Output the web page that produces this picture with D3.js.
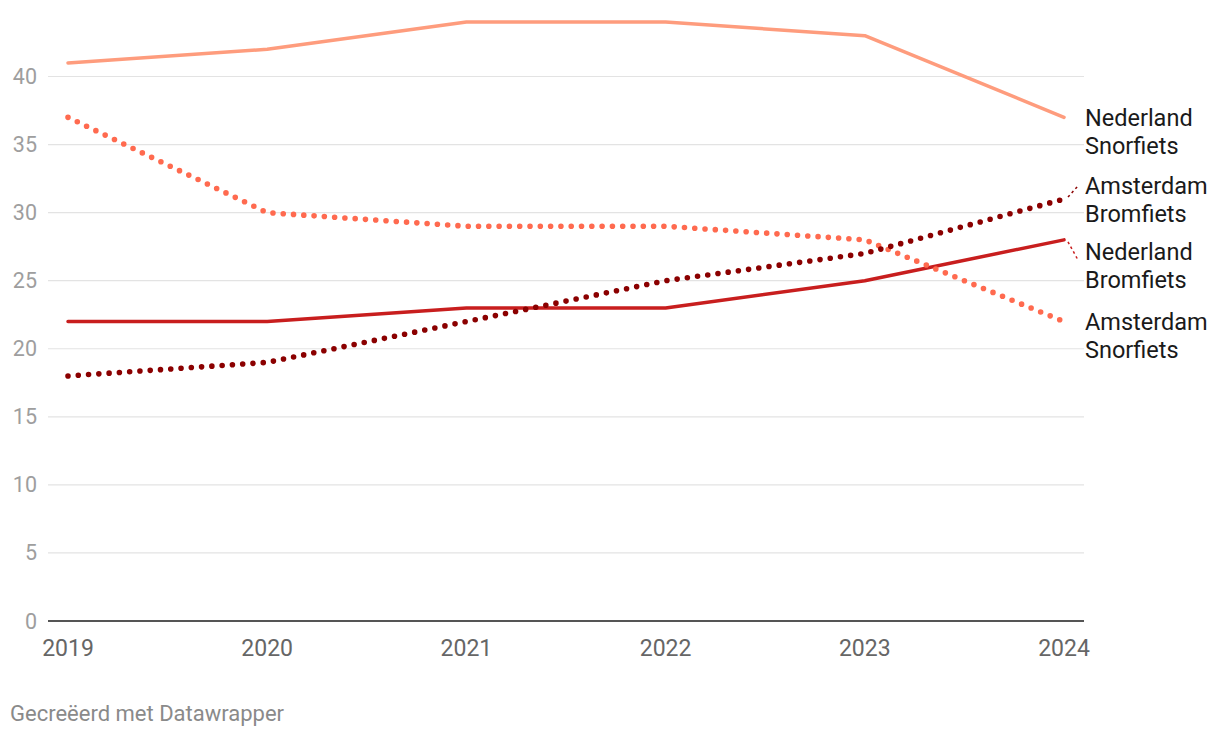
<!DOCTYPE html>
<html><head><meta charset="utf-8">
<script src="https://cdn.jsdelivr.net/npm/d3@7"></script>
<style>body{margin:0;background:#fff;font-family:Roboto,sans-serif;}</style>
</head><body><svg id="c" width="1220" height="738"></svg>
<script>
const years = [2019, 2020, 2021, 2022, 2023, 2024];
const yTicks = [0, 5, 10, 15, 20, 25, 30, 35, 40];
const nederlandSnorfiets = [41, 42, 44, 44, 43, 37];
const amsterdamSnorfiets = [37, 30, 29, 29, 28, 22];
const nederlandBromfiets = [22, 22, 23, 23, 25, 28];
const amsterdamBromfiets = [18, 19, 22, 25, 27, 31];
const seriesNames = ["Nederland Snorfiets", "Amsterdam Snorfiets", "Nederland Bromfiets", "Amsterdam Bromfiets"];

const series = [
  {name: seriesNames[0], vals: nederlandSnorfiets, color: "#fe9c7d", dotted: false, label: ["Nederland", "Snorfiets"], ly: 118},
  {name: seriesNames[1], vals: amsterdamSnorfiets, color: "#ff6a4f", dotted: true, label: ["Amsterdam", "Snorfiets"], ly: 322},
  {name: seriesNames[2], vals: nederlandBromfiets, color: "#c81e1e", dotted: false, label: ["Nederland", "Bromfiets"], ly: 252},
  {name: seriesNames[3], vals: amsterdamBromfiets, color: "#8b0000", dotted: true, label: ["Amsterdam", "Bromfiets"], ly: 186}
];

const svg = d3.select("#c");
const x = d3.scaleLinear().domain([2019, 2024]).range([68, 1064]);
const y = d3.scaleLinear().domain([0, 40]).range([621, 76.5]);

const g = svg.append("g");
g.selectAll("line.grid").data(yTicks.filter(d => d > 0)).enter().append("line")
  .attr("x1", 48).attr("x2", 1084)
  .attr("y1", d => y(d)).attr("y2", d => y(d))
  .attr("stroke", "#e3e3e3").attr("stroke-width", 1.2);
g.selectAll("text.yt").data(yTicks).enter().append("text")
  .attr("x", 37).attr("y", d => y(d)).attr("dy", "0.35em")
  .attr("text-anchor", "end").attr("font-size", 21.5).attr("fill", "#9e9e9e")
  .text(d => d);
g.append("line").attr("x1", 48).attr("x2", 1084).attr("y1", y(0)).attr("y2", y(0))
  .attr("stroke", "#1d1d1d").attr("stroke-width", 1.5);

g.selectAll("text.xt").data(years).enter().append("text")
  .attr("x", d => x(d)).attr("y", 656)
  .attr("text-anchor", "middle").attr("font-size", 23).attr("fill", "#666")
  .text(d => d);

const line = d3.line().x((d, i) => x(years[i])).y(d => y(d)).curve(d3.curveLinear);

const drawOrder = [0, 2, 1, 3];
drawOrder.forEach(k => {
  const s = series[k];
  const p = svg.append("path").attr("d", line(s.vals))
    .attr("fill", "none").attr("stroke", s.color)
    .attr("stroke-linecap", "round").attr("stroke-linejoin", "round");
  if (s.dotted) p.attr("stroke-width", 5.6).attr("stroke-dasharray", "0 10.3");
  else p.attr("stroke-width", 3.5);
});

series.forEach(s => {
  const ex = x(2024), ey = y(s.vals[5]);
  const targetY = s.ly;
  if (Math.abs(targetY - ey) > 6) {
    svg.append("line").attr("x1", ex + 4).attr("y1", ey + (targetY > ey ? 2 : -2))
      .attr("x2", 1078).attr("y2", targetY + (targetY > ey ? 8 : 0))
      .attr("stroke", s.color).attr("stroke-width", 1.5).attr("stroke-dasharray", "2.5 3");
  }
  const t = svg.append("text").attr("x", 1085).attr("font-size", 23.5).attr("fill", "#1a1a1a");
  s.label.forEach((l, i) => t.append("tspan").attr("x", 1085).attr("y", targetY + i * 28).attr("dy", "0.35em").text(l));
});

svg.append("text").attr("x", 10).attr("y", 721).attr("font-size", 22).attr("fill", "#8a8a8a")
  .text("Gecreëerd met Datawrapper");
</script></body></html>
